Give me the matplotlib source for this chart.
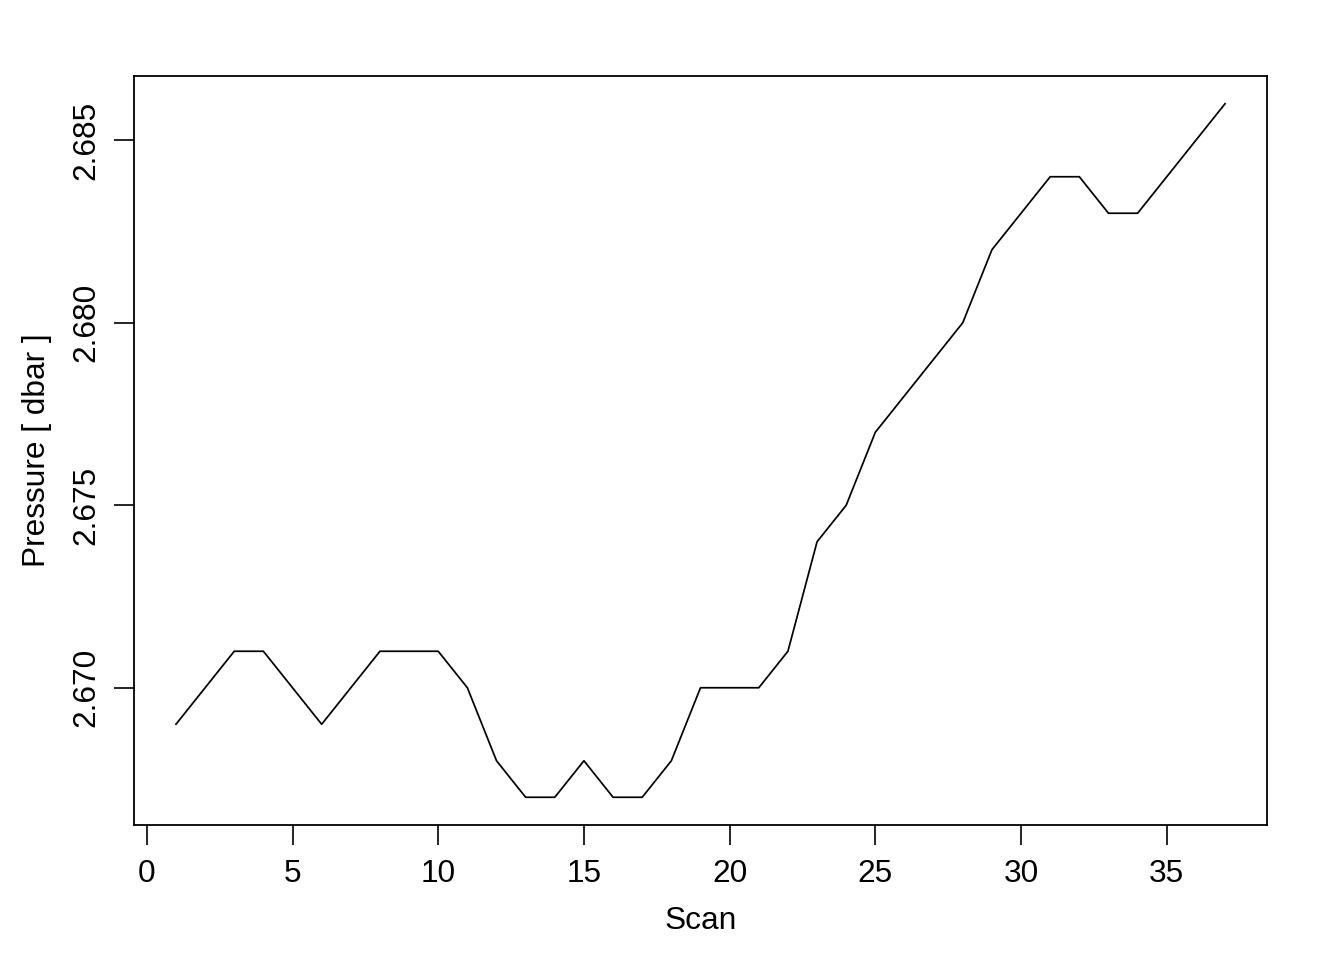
import matplotlib
matplotlib.use("Agg")
import matplotlib.pyplot as plt

scan = list(range(1, 38))
pressure = [2.669, 2.670, 2.671, 2.671, 2.670, 2.669, 2.670, 2.671, 2.671, 2.671,
            2.670, 2.668, 2.667, 2.667, 2.668, 2.667, 2.667, 2.668, 2.670, 2.670,
            2.670, 2.671, 2.674, 2.675, 2.677, 2.678, 2.679, 2.680, 2.682, 2.683,
            2.684, 2.684, 2.683, 2.683, 2.684, 2.685, 2.686]
xticks = [0, 5, 10, 15, 20, 25, 30, 35]
yticks = [2.670, 2.675, 2.680, 2.685]

plt.rcParams['font.family'] = ['Liberation Sans', 'DejaVu Sans']
DPI = 100
fig = plt.figure(figsize=(13.44, 9.6), dpi=DPI)
ax = fig.add_axes([134/1344, 1-825/960, (1267-134)/1344, (825-76)/960])
ax.plot(scan, pressure, color='black', lw=1.25)

xr = max(scan) - min(scan)
ax.set_xlim(min(scan) - 0.04*xr, max(scan) + 0.04*xr)
yr = max(pressure) - min(pressure)
ax.set_ylim(min(pressure) - 0.04*yr, max(pressure) + 0.04*yr)

ax.set_xticks(xticks)
ax.set_xticklabels([str(t) for t in xticks])
ax.set_yticks(yticks)
ax.set_yticklabels([f"{t:.3f}" for t in yticks], rotation=90, va='center')
ax.tick_params(direction='out', length=14.4, width=1.2, labelsize=22.8, colors='black')
ax.tick_params(axis='x', pad=10)
ax.tick_params(axis='y', pad=9)
for s in ax.spines.values():
    s.set_linewidth(1.3)
ax.set_xlabel("Scan", fontsize=22.8, labelpad=12)
ax.set_ylabel("Pressure [ dbar ]", fontsize=22.8, labelpad=14)
fig.savefig("out.png", dpi=DPI)
